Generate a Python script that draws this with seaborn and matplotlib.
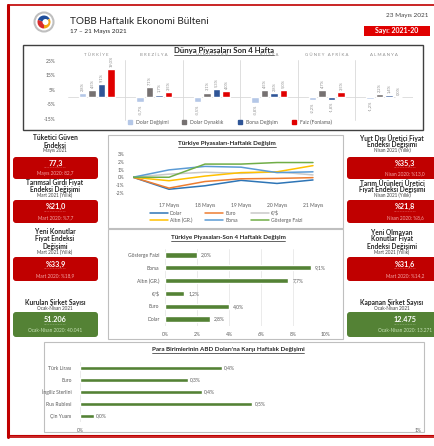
import matplotlib
matplotlib.use("Agg")
import matplotlib.pyplot as plt
from matplotlib import patches
from matplotlib.lines import Line2D
import seaborn as sns
import pandas as pd
import numpy as np

# ---------------- data ----------------
countries = ["TÜRKİYE", "BREZİLYA", "HİNDİSTAN", "RUSYA", "GÜNEY AFRİKA", "ALMANYA"]
world_series = ["Dolar Değişimi", "Dolar Oynaklık", "Borsa Değişim", "Faiz (Fonlama)"]
dolar_degisim = [2.8, -3.7, -3.5, -3.8, -2.2, -1.2]
dolar_oynaklik = [4.5, 7.1, 3.1, 4.5, 4.7, 2.2]
borsa_degisim = [9.1, 1.7, 5.3, 2.8, -1.8, 1.4]
faiz_fonlama = [19.0, 3.5, 4.0, 5.0, 3.5, 0.0]

days = ["", "17 Mayıs", "18 Mayıs", "19 Mayıs", "20 Mayıs", "21 Mayıs"]
line_dolar = [0, -1.55, -1.1, -0.4, -0.8, -0.35]
line_euro = [0, -1.4, -0.55, -0.2, -0.15, -0.05]
line_eurusd = [0, 0.4, 0.65, 0.5, 0.7, 0.3]
line_altin = [0, -0.45, 0.15, 0.6, 0.7, 1.5]
line_borsa = [0, 0.95, 1.4, 1.3, 0.6, 0.7]
line_gosterge = [0, 0.0, 1.7, 1.7, 1.9, 1.9]

four_week_items = ["Gösterge Faizi", "Borsa", "Altın (GR.)", "€/$", "Euro", "Dolar"]
four_week_values = [2.0, 9.1, 7.7, 1.2, 4.0, 2.8]

currencies = ["Türk Lirası", "Euro", "İngiliz Sterlini", "Rus Rublesi", "Çin Yuanı"]
currency_values = [0.42, 0.32, 0.36, 0.51, 0.04]

kpi_left_titles = [["Tüketici Güven", "Endeksi"], ["Tarımsal Girdi Fiyat", "Endeksi Değişimi"],
                   ["Yeni Konutlar", "Fiyat Endeksi", "Değişimi"], ["Kurulan Şirket Sayısı"]]
kpi_left_periods = ["Mayıs 2021", "Mart 2021 (Yıllık)", "Mart 2021 (Yıllık)", "Ocak-Nisan 2021"]
kpi_left_values = ["77,3", "%21,0", "%33,9", "51.206"]
kpi_left_prev = ["Mayıs 2020: 82,7", "Mart 2020: %7,7", "Mart 2020: %18,9", "Ocak-Nisan 2020: 40.041"]

kpi_right_titles = [["Yurt Dışı Üretici Fiyat", "Endeksi Değişimi"], ["Tarım Ürünleri Üretici", "Fiyat Endeksi Değişimi"],
                    ["Yeni Olmayan", "Konutlar Fiyat", "Endeksi Değişimi"], ["Kapanan Şirket Sayısı"]]
kpi_right_periods = ["Nisan 2021 (Yıllık)", "Nisan 2021 (Yıllık)", "Mart 2021 (Yıllık)", "Ocak-Nisan 2021"]
kpi_right_values = ["%35,3", "%21,8", "%31,6", "12.475"]
kpi_right_prev = ["Nisan 2020: %13,0", "Nisan 2020: %8,6", "Mart 2020: %14,2", "Ocak-Nisan 2020: 13.271"]

# ---------------- style ----------------
sns.set_theme(style="white")
plt.rcParams["font.family"] = ["Lato", "DejaVu Sans"]
plt.rcParams["axes.unicode_minus"] = False

W, H = 435, 446
fig = plt.figure(figsize=(W / 100, H / 100), dpi=100)
fig.patch.set_facecolor("white")

bg = fig.add_axes([0, 0, 1, 1], zorder=0)
bg.set_xlim(0, W)
bg.set_ylim(H, 0)
bg.axis("off")


def axes_px(x0, y0, x1, y1):
    a = fig.add_axes([x0 / W, 1 - y1 / H, (x1 - x0) / W, (y1 - y0) / H], zorder=2)
    a.set_facecolor("none")
    return a


def pct(v, d=1):
    return f"{v:.{d}f}%".replace(".", ",")


RED = "#C00000"
GREEN = "#548235"
TICK = "#595959"

# page border
bg.plot([8, 440], [5, 5], color=RED, lw=1.2)
bg.plot([8, 8], [5, 437], color=RED, lw=2.2)
bg.plot([8, 440], [434.5, 434.5], color=RED, lw=0.8)
bg.plot([8, 440], [437, 437], color=RED, lw=1.2)

# header
bg.add_patch(patches.Circle((44, 22), 9.5, fc="white", ec="#BFBFBF", lw=1.5))
bg.add_patch(patches.Wedge((44, 22), 6.5, 90, 200, fc="#D92B2B", ec="none"))
bg.add_patch(patches.Wedge((44, 22), 6.5, 200, 330, fc="#1F4E9B", ec="none"))
bg.add_patch(patches.Wedge((44, 22), 6.5, 330, 450, fc="#F2A516", ec="none"))
bg.add_patch(patches.Circle((45.5, 22), 3.0, fc="white", ec="none"))
bg.text(70, 22, "TOBB Haftalık Ekonomi Bülteni", fontsize=7.2, color="#262626", va="center", ha="left")
bg.text(70, 31, "17 – 21 Mayıs 2021", fontsize=4.6, color="#262626", va="center", ha="left")
bg.text(428, 15, "23 Mayıs 2021", fontsize=4.6, color="#404040", va="center", ha="right")
bg.add_patch(patches.Rectangle((364, 26), 66, 10, fc="#E00000", ec="none"))
bg.text(397, 31, "Sayı: 2021-20", fontsize=5, color="white", fontweight="bold", va="center", ha="center")

fig.canvas.draw()
renderer = fig.canvas.get_renderer()


def underlined(x, y, s, size, color="#262626"):
    t = bg.text(x, y, s, fontsize=size, fontweight="bold", color=color, ha="center", va="center")
    bb = t.get_window_extent(renderer)
    w = bb.width
    bg.plot([x - w / 2, x + w / 2], [y + size * 0.75, y + size * 0.75], color=color, lw=0.5)


# ---------------- top chart ----------------
bg.add_patch(patches.Rectangle((23, 45), 400, 85, fill=False, ec="#404040", lw=1.0))
underlined(224, 50.5, "Dünya Piyasaları Son 4 Hafta", 5.6)

world_df = pd.DataFrame({
    "Ülke": np.repeat(countries, len(world_series)),
    "Seri": world_series * len(countries),
    "Değer": np.column_stack([dolar_degisim, dolar_oynaklik, borsa_degisim, faiz_fonlama]).ravel(),
})
world_palette = ["#B4C7E7", "#767171", "#2F5597", "#E00000"]
ax1 = axes_px(68, 58, 413, 123)
sns.barplot(data=world_df, x="Ülke", y="Değer", hue="Seri", hue_order=world_series, order=countries,
            palette=world_palette, width=0.66, gap=0.22, ax=ax1, legend=False, saturation=1)
ax1.set_xlim(-0.5, len(countries) - 0.5)
ax1.set_ylim(-17.9, 26.9)
ax1.set_yticks([-15, -5, 5, 15, 25])
ax1.set_yticklabels([pct(v, 0) for v in [-15, -5, 5, 15, 25]], fontsize=3.6, color=TICK)
ax1.tick_params(axis="y", length=0, pad=9)
ax1.set_xticks([])
ax1.set_xlabel("")
ax1.set_ylabel("")
for s in ax1.spines.values():
    s.set_visible(False)
ax1.axhline(0, color="#D9D9D9", lw=0.6, zorder=0)
for xv in np.arange(0.5, len(countries) - 0.5, 1):
    ax1.plot([xv, xv], [-16, 25.5], color="#D9D9D9", lw=0.6, zorder=0)
for i, c in enumerate(countries):
    ax1.text(i, 29, " ".join(c), fontsize=3.2, color="#8C8C8C", ha="center", va="center", clip_on=False)
for cont, vals in zip(ax1.containers, [dolar_degisim, dolar_oynaklik, borsa_degisim, faiz_fonlama]):
    ax1.bar_label(cont, labels=[pct(v) for v in vals], rotation=90, fontsize=2.9, color="#8C8C8C", padding=1.5)

handles1 = [Line2D([], [], marker="s", ls="", color=c, markersize=2.6) for c in world_palette]
fig.legend(handles1, world_series, loc="center", bbox_to_anchor=(228 / W, 1 - 122.5 / H), ncol=4,
           frameon=False, fontsize=3.6, handletextpad=0.2, columnspacing=2.2, labelcolor=TICK)

# ---------------- weekly line chart ----------------
bg.add_patch(patches.Rectangle((108, 135), 235, 93, fill=False, ec="#BFBFBF", lw=0.8))
underlined(227, 144, "Türkiye Piyasaları-Haftalık Değişim", 4.5)
line_names = ["Dolar", "Euro", "€/$", "Altın (GR.)", "Borsa", "Gösterge Faizi"]
line_colors = ["#2E75B6", "#ED7D31", "#C9C9C9", "#FFC000", "#5B9BD5", "#70AD47"]
line_vals = [line_dolar, line_euro, line_eurusd, line_altin, line_borsa, line_gosterge]
line_df = pd.DataFrame({
    "Gün": np.tile(np.arange(len(days)), len(line_names)),
    "Seri": np.repeat(line_names, len(days)),
    "Değer": np.concatenate(line_vals),
})
ax2 = axes_px(133, 152, 340, 197)
sns.lineplot(data=line_df, x="Gün", y="Değer", hue="Seri", hue_order=line_names, palette=line_colors,
             ax=ax2, legend=False, lw=1.1)
ax2.set_xlim(0, 5.75)
ax2.set_ylim(-2.55, 3.26)
ax2.set_yticks(range(-2, 4))
ax2.set_yticklabels([pct(v, 0) for v in range(-2, 4)], fontsize=3.5, color=TICK)
ax2.set_xticks(range(1, len(days)))
ax2.set_xticklabels(days[1:], fontsize=3.6, color=TICK)
ax2.tick_params(length=0, pad=4)
ax2.tick_params(axis="y", pad=6)
ax2.set_xlabel("")
ax2.set_ylabel("")
for s in ax2.spines.values():
    s.set_visible(False)
order = [0, 3, 1, 4, 2, 5]
handles2 = [Line2D([], [], color=line_colors[i], lw=1.1) for i in order]
fig.legend(handles2, [line_names[i] for i in order], loc="center", bbox_to_anchor=(226 / W, 1 - 216.5 / H),
           ncol=3, frameon=False, fontsize=3.6, handlelength=3.6, handletextpad=0.4, columnspacing=2.6,
           labelspacing=0.4, labelcolor=TICK)

# ---------------- 4-week bar chart ----------------
bg.add_patch(patches.Rectangle((108, 229), 235, 110, fill=False, ec="#BFBFBF", lw=0.8))
underlined(228, 238, "Türkiye Piyasaları-Son 4 Haftalık Değişim", 4.5)
fw_df = pd.DataFrame({"Kalem": four_week_items, "Değer": four_week_values})
ax3 = axes_px(165, 248.5, 325, 325.5)
sns.barplot(data=fw_df, y="Kalem", x="Değer", order=four_week_items, color=GREEN, width=0.42,
            ax=ax3, saturation=1)
ax3.set_xlim(0, 10)
ax3.set_xticks(range(0, 11, 2))
ax3.set_xticklabels([pct(v, 0) for v in range(0, 11, 2)], fontsize=3.6, color=TICK)
ax3.tick_params(length=0, pad=5)
ax3.tick_params(axis="y", labelsize=3.6, labelcolor=TICK, pad=4)
ax3.set_xlabel("")
ax3.set_ylabel("")
ax3.grid(axis="x", color="#E3E3E3", lw=0.5)
ax3.set_axisbelow(True)
for s in ax3.spines.values():
    s.set_visible(False)
ax3.bar_label(ax3.containers[0], labels=[pct(v) for v in four_week_values], fontsize=3.6, color=TICK,
              padding=3, clip_on=False)

# ---------------- KPI blocks ----------------
left_layout = [([138, 145], 150.5, 157, 179), ([183, 189.5], 195.5, 200, 223), ([232, 239, 246], 252.5, 257, 281),
               ([302], 308, 312, 337)]


def kpi_block(cx_title, bx0, bx1, layout, titles, period, value, prev, color, prevcolor):
    tys, py, by0, by1 = layout
    for ty, tline in zip(tys, titles):
        bg.text(cx_title, ty, tline, fontsize=4.8, fontweight="bold", color="#262626", ha="center", va="center")
    bg.text(cx_title, py, period, fontsize=3.3, color="#404040", ha="center", va="center")
    bg.add_patch(patches.FancyBboxPatch((bx0, by0), bx1 - bx0, by1 - by0,
                                        boxstyle="round,pad=0,rounding_size=3", fc=color, ec="none"))
    cx = (bx0 + bx1) / 2
    h = by1 - by0
    bg.text(cx, by0 + h * 0.3, value, fontsize=5.2, fontweight="bold", color="white", ha="center", va="center")
    bg.text(cx, by0 + h * 0.53, "-" * 14, fontsize=3.2, color=prevcolor, ha="center", va="center")
    bg.text(cx, by0 + h * 0.76, prev, fontsize=3.4, color=prevcolor, ha="center", va="center")


for i in range(4):
    col = GREEN if i == 3 else RED
    pcol = "#C5E0B4" if i == 3 else "#F4A7A7"
    kpi_block(55, 13, 98, left_layout[i], kpi_left_titles[i], kpi_left_periods[i], kpi_left_values[i],
              kpi_left_prev[i], col, pcol)
    kpi_block(392, 347, 463, left_layout[i], kpi_right_titles[i], kpi_right_periods[i], kpi_right_values[i],
              kpi_right_prev[i], col, pcol)

# ---------------- currency chart ----------------
bg.add_patch(patches.Rectangle((44, 342), 380, 90, fill=False, ec="#BFBFBF", lw=0.8))
underlined(228, 350, "Para Birimlerinin ABD Doları'na Karşı Haftalık Değişimi", 4.5)
cur_df = pd.DataFrame({"Para": currencies, "Değer": currency_values})
ax4 = axes_px(80, 362, 418, 422)
sns.barplot(data=cur_df, y="Para", x="Değer", order=currencies, color=GREEN, width=0.34, ax=ax4, saturation=1)
ax4.set_xlim(0, 1)
ax4.set_xticks([0, 1])
ax4.set_xticklabels(["0%", "1%"], fontsize=3.6, color=TICK)
ax4.tick_params(length=0, pad=4)
ax4.tick_params(axis="y", labelsize=3.6, labelcolor=TICK, pad=6)
ax4.set_xlabel("")
ax4.set_ylabel("")
for s in ax4.spines.values():
    s.set_visible(False)
ax4.axvline(0, color="#E3E3E3", lw=0.5, zorder=0)
ax4.bar_label(ax4.containers[0], labels=[pct(v) for v in currency_values], fontsize=3.6, color=TICK, padding=1.5)

fig.savefig("out.png", dpi=100, facecolor="white")
